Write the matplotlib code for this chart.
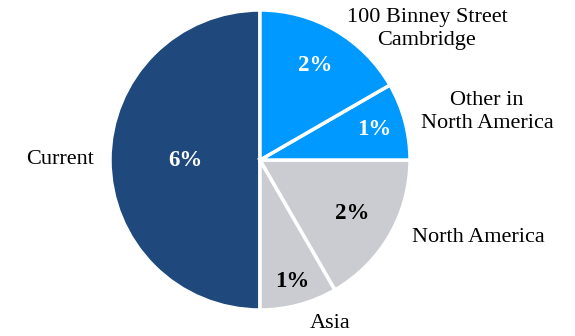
import numpy as np
import matplotlib.pyplot as plt

plt.rcParams['font.family'] = ['Liberation Serif', 'DejaVu Serif']

# slices, counter-clockwise from the top
names = ["Current", "Asia", "North America", "Other in\nNorth America", "100 Binney Street\nCambridge"]
values = [6, 1, 2, 1, 2]
pct_text = ["6%", "1%", "2%", "1%", "2%"]
colors = ["#1f497d", "#cbccd1", "#cbccd1", "#0099ff", "#0099ff"]
pct_colors = ["white", "black", "black", "white", "white"]
pct_dist = [0.5, 0.84, 0.71, 0.79, 0.73]
# label positions in pixel coords (y from bottom)
label_xy = [(60, 176), (330, 13), (478, 99), (487, 224), (427, 307)]

cx, cy, r = 260, 176, 150

fig = plt.figure(figsize=(5.75, 3.36), dpi=100)
ax = fig.add_axes([0, 0, 1, 1])

wedges, _ = ax.pie(values, colors=colors, startangle=90, counterclock=True,
                   center=(cx, cy), radius=r,
                   wedgeprops=dict(edgecolor="white", linewidth=2.5))

ax.set_xlim(0, 575)
ax.set_ylim(0, 336)
ax.set_aspect('equal')
ax.axis('off')

for w, t, c, d in zip(wedges, pct_text, pct_colors, pct_dist):
    mid = np.deg2rad((w.theta1 + w.theta2) / 2)
    ax.text(cx + d * r * np.cos(mid), cy + d * r * np.sin(mid), t,
            ha='center', va='center', fontsize=16.5, fontweight='bold', color=c)

for name, (x, y) in zip(names, label_xy):
    ax.text(x, y, name, ha='center', va='center', fontsize=16, color='black',
            linespacing=1.35)

fig.savefig("out.png", dpi=100)
